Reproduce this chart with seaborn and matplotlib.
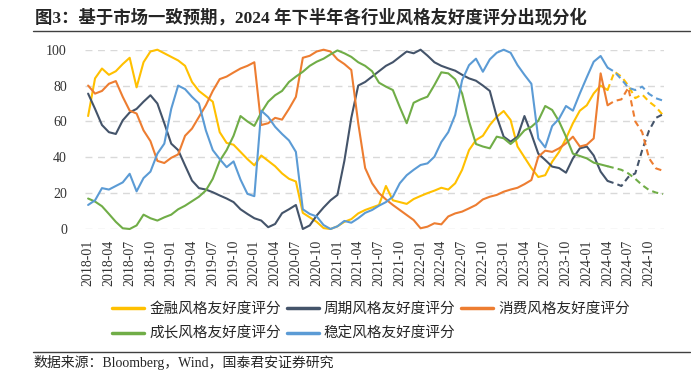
import numpy as np
import pandas as pd
import matplotlib
matplotlib.use("Agg")
import matplotlib.pyplot as plt
import seaborn as sns
from matplotlib.lines import Line2D

# monthly scores, 2018-01 .. 2024-12 (solid up to 2024-04, dashed forecast after)
months = pd.date_range("2018-01-01", periods=84, freq="MS")
split = 75  # 2024-04

finance = [63, 84, 89.5, 86, 88, 92, 95.5, 79, 93, 99, 100, 98, 96, 94, 91, 82, 77, 74, 71, 54,
           48, 47, 43, 39, 35.5, 41, 38, 35, 31, 28, 26.5, 9, 6.5, 4, 0.5, 0, 1.5, 4, 5.5, 8.7,
           10.6, 12, 13.4, 24, 16, 15, 14, 16.7, 18.4, 20, 21.4, 23, 22, 25.5, 33, 44, 49.6, 52, 58, 62.6,
           65.8, 60.8, 46, 40, 34, 29, 30, 37.5, 43, 50.5, 59, 66, 69, 75.6, 80, 77.5, 87.7, 85, 80, 73,
           75, 71, 68, 63.5]
cyclical = [75.5, 67, 58, 54, 53, 60.6, 65, 67, 71, 74.6, 70, 59, 47.6, 44, 35.4, 27, 22.8, 22, 20.5, 18.7,
            17, 15, 11, 8.4, 6, 4.7, 1, 2.8, 8.8, 11, 13.4, 0, 2, 7.5, 12, 16, 19, 38, 62, 80,
            82, 85, 88, 91, 93, 96, 99, 98, 100, 96.7, 93, 91, 89.6, 88.3, 86, 84, 82.7, 80, 77, 62.6,
            51.5, 48.7, 51.5, 63, 53, 42, 38.5, 34.8, 34, 31.4, 39.4, 45, 46, 41, 32, 26.8, 25.5, 24, 29, 31,
            44, 55, 62, 64]
consumer = [80, 75.5, 77, 81, 82.5, 73.7, 66, 64.4, 55, 49, 38, 36.8, 39.7, 41.6, 52, 56, 62.5, 69, 77, 83.6,
            85, 87.3, 89.5, 91, 93, 58, 59, 62, 61, 67, 73.7, 95.5, 96.6, 99, 100, 99, 94.6, 92, 88.7, 59,
            34, 25.5, 20, 16.5, 13.4, 10.6, 7.8, 5, 0.4, 1.3, 3.2, 2.6, 7, 8.7, 9.7, 11.5, 13.4, 16.5, 18, 19,
            20.8, 22, 23, 25, 27.3, 40.3, 43.7, 43, 45, 47.8, 51.5, 46, 47, 50.5, 86.8, 69, 71.4, 72.3, 78.8, 60,
            54, 39.4, 33.8, 32.5]
growth = [17, 15.3, 12.7, 8.4, 4, 0.4, 0, 2, 8, 6, 4.7, 6.5, 8, 11, 13, 15.5, 18, 21.5, 28, 38,
          44, 52, 63, 60, 57.5, 65, 71, 74.6, 77, 82, 85, 87.7, 91, 93.3, 95, 97.4, 99.6, 98, 96, 93,
          91, 88, 81.6, 79.4, 77.5, 68, 59, 70.4, 72.3, 73.8, 80.3, 87.4, 86.8, 83.5, 75.6, 60, 47.4, 46, 45, 51.5,
          50.6, 47.4, 50.6, 55, 57, 60.4, 68.6, 66.4, 60, 51.5, 42, 40.7, 39.4, 37, 36, 35, 34, 33, 31, 28,
          24.5, 21.7, 20.3, 19.5]
stable = [13.4, 16, 22.8, 22, 24, 26, 30.8, 21, 28.4, 32, 42, 47.6, 67, 80, 78, 73.7, 70, 55, 44, 39,
          34.5, 37.7, 27.6, 19.6, 18.3, 66, 62.5, 57, 53, 49.4, 43, 11, 8.4, 7, 2.2, 0, 1.5, 4.5, 3.5, 6,
          9, 10.6, 13, 15, 18, 25.5, 30, 33, 35.7, 36.6, 40.3, 48.5, 54, 63.6, 83, 91.4, 95, 87.7, 94.6, 98.3,
          100, 98.3, 91.4, 86, 81, 50.5, 45.5, 57.4, 61.5, 68.6, 66, 75.6, 84.6, 93.3, 96.5, 90, 87.7, 83.5, 78.8, 77.5,
          79.4, 75.3, 72.9, 71.6]

names = ["金融风格友好度评分", "周期风格友好度评分", "消费风格友好度评分",
         "成长风格友好度评分", "稳定风格友好度评分"]
series = [finance, cyclical, consumer, growth, stable]
colors = ["#FFC000", "#44546A", "#ED7D31", "#70AD47", "#5B9BD5"]

sns.set_theme(style="white")
plt.rcParams["font.family"] = ["Liberation Serif", "Noto Sans CJK SC"]
plt.rcParams["axes.unicode_minus"] = False

fig = plt.figure(figsize=(6.91, 3.74), dpi=100)
ax = fig.add_axes([85 / 691, 1 - 229 / 374, 579 / 691, 179.3 / 374])

x = np.arange(len(months))
for name, vals, c in zip(names, series, colors):
    vals = np.array(vals)
    sns.lineplot(x=x[:split + 1], y=vals[:split + 1], color=c, lw=1.5, ax=ax, clip_on=False)
    sns.lineplot(x=x[split:], y=vals[split:], color=c, lw=1.5, ls=(0, (3, 2)), ax=ax, clip_on=False)

ax.set_xlim(-0.45, 83.15)
ax.set_ylim(0, 100)
ax.set_yticks(np.arange(0, 101, 20))
ax.set_xticks(x[::3])
ax.set_xticklabels([d.strftime("%Y-%m") for d in months[::3]], rotation=90)
ax.tick_params(axis="y", length=0, pad=13, labelsize=10, labelcolor="#333333")
ax.tick_params(axis="x", length=0, pad=8, labelsize=10, labelcolor="#333333")
ax.yaxis.grid(True, color="#d9d9d9", ls=(0, (5, 4)), lw=1)
ax.xaxis.grid(False)
for s in ax.spines.values():
    s.set_visible(False)
ax.set_xlabel("")
ax.set_ylabel("")

# legend is filled column by column, so reorder to read row by row
order = [0, 3, 1, 4, 2]
handles = [Line2D([], [], color=colors[i], lw=2.5) for i in order]
fig.legend(handles, [names[i] for i in order], ncol=3, loc="upper left",
           bbox_to_anchor=(112 / 691, 1 - 302 / 374),
           frameon=False, fontsize=10.5, handlelength=2.2, handletextpad=0.35,
           columnspacing=0.4, borderpad=0, borderaxespad=0, labelspacing=0.75)

fig.text(35 / 691, 1 - 18 / 374, "图3：基于市场一致预期，2024 年下半年各行业风格友好度评分出现分化",
         fontsize=12.5, fontweight="bold", va="center", ha="left")
fig.add_artist(Line2D([33 / 691, 690 / 691], [1 - 31 / 374] * 2, color="#404040", lw=1))
fig.add_artist(Line2D([33 / 691, 690 / 691], [1 - 352 / 374] * 2, color="#404040", lw=1))
fig.text(33 / 691, 1 - 362 / 374, "数据来源：Bloomberg，Wind，国泰君安证券研究",
         fontsize=10, va="center", ha="left")

fig.savefig("out.png", dpi=100)
